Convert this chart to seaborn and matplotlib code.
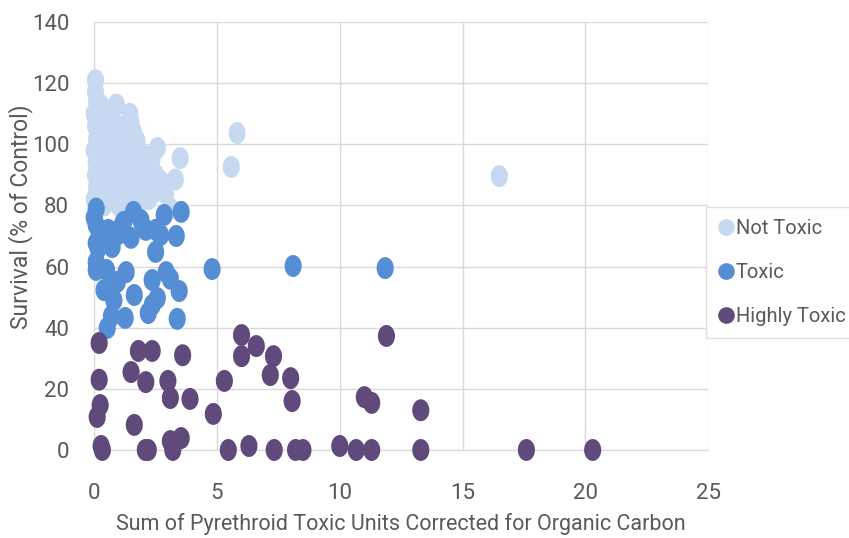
import numpy as np
import pandas as pd
import matplotlib
matplotlib.use("Agg")
import matplotlib.pyplot as plt
from matplotlib.path import Path
from matplotlib.lines import Line2D
import seaborn as sns

# values
not_toxic_x = [0.05, 0.05, 0.1, 0.0, 0.05, 0.1, 0.0, 0.08, 0.05, 0.1, 0.0,
               0.3, 0.3, 0.35, 0.3, 0.4, 0.25, 0.6, 0.55, 0.6, 0.65, 0.5,
               0.9, 0.95, 0.85, 0.9, 0.95, 1.0, 0.75, 1.2, 1.25, 1.2, 1.3, 1.15,
               1.45, 1.5, 1.5, 1.45, 1.55, 1.5, 1.75, 1.85, 1.8, 1.9, 1.75,
               2.1, 2.2, 2.1, 2.2, 2.35, 2.5, 2.4, 2.57, 2.7, 2.75, 3.1,
               3.3, 3.5, 5.58, 5.82, 16.5, 0.45, 0.7, 1.05, 1.35, 1.65, 2.0,
               0.2, 0.7, 1.1, 1.6, 2.3, 2.9]
not_toxic_y = [121, 117, 114, 110, 106, 102, 98, 94, 90, 86, 82,
               108, 100, 92, 85, 80, 113, 105, 97, 89, 83, 110,
               113, 106, 99, 92, 85, 80, 108, 104, 97, 90, 84, 78,
               110, 107, 100, 93, 87, 81, 101, 95, 89, 84, 80,
               96, 91, 86, 82, 95, 90, 84, 98.8, 88, 86, 79,
               88.5, 95.5, 92.6, 103.7, 89.6, 95, 102, 94, 96, 92, 88,
               96, 86, 88, 104, 87, 84]

toxic_x = [4.8, 8.1, 11.85, 3.54, 3.34, 2.93, 3.46, 3.38, 2.57, 2.36, 2.2,
           2.36, 2.5, 2.85, 1.6, 1.5, 1.3, 1.63, 1.26, 0.7, 0.53, 0.8, 0.4,
           0.94, 0.5, 0.08, 0.08, 0.08, 0.08, 0.0, 0.16, 0.08, 1.0, 0.73,
           0.57, 1.2, 1.9, 2.1, 2.5, 2.7, 3.1, 0.3, 1.1]
toxic_y = [59.2, 60.2, 59.5, 77.9, 70.0, 58.2, 52.0, 42.9, 49.7, 47.4, 44.8,
           55.6, 64.8, 76.9, 77.9, 69.4, 58.2, 50.7, 43.2, 43.8, 39.9, 49.0, 52.3,
           55.0, 58.9, 58.9, 67.7, 73.6, 79.0, 76.0, 66.0, 61.5, 70.7, 66.4,
           72.0, 74.6, 75.2, 72.0, 72.0, 70.3, 56.0, 71.0, 73.0]

highly_x = [0.2, 0.2, 0.24, 0.12, 0.28, 0.33, 1.8, 2.36, 1.5, 2.1, 3.0, 3.1,
            3.6, 3.9, 1.63, 2.08, 2.2, 3.1, 3.2, 3.54, 4.85, 5.3, 5.46, 6.0,
            6.0, 6.6, 6.3, 7.17, 7.3, 7.33, 8.0, 8.06, 8.2, 8.5, 10.0, 10.67,
            11.0, 11.3, 11.3, 11.9, 13.3, 13.3, 17.6, 20.3]
highly_y = [35.0, 23.0, 14.7, 10.8, 1.3, 0.0, 32.4, 32.4, 25.5, 22.2, 22.6, 17.0,
            31.0, 16.7, 8.2, 0.0, 0.0, 2.9, 0.0, 3.9, 11.8, 22.6, 0.0, 37.6,
            30.7, 34.0, 1.3, 24.5, 30.7, 0.0, 23.5, 16.0, 0.0, 0.0, 1.3, 0.0,
            17.3, 15.4, 0.0, 37.3, 13.0, 0.0, 0.0, 0.0]

categories = ["Not Toxic", "Toxic", "Highly Toxic"]
colors = ["#c6d9f1", "#558ed5", "#604a7b"]

df = pd.concat([
    pd.DataFrame({"x": not_toxic_x, "y": not_toxic_y, "cls": categories[0]}),
    pd.DataFrame({"x": toxic_x, "y": toxic_y, "cls": categories[1]}),
    pd.DataFrame({"x": highly_x, "y": highly_y, "cls": categories[2]}),
], ignore_index=True)

sns.set_style("whitegrid")
plt.rcParams["font.family"] = ["Roboto", "DejaVu Sans"]

# slightly tall ellipse, like the stretched excel markers
t = np.linspace(0, 2 * np.pi, 60)
ellipse = Path(np.column_stack([0.39 * np.cos(t), 0.5 * np.sin(t)]), closed=True)

fig = plt.figure(figsize=(8.49, 5.38), dpi=100)
ax = fig.add_axes([0.111, 0.1636, 0.723, 0.7954])
sns.scatterplot(data=df, x="x", y="y", hue="cls", hue_order=categories,
                palette=colors, marker=ellipse, s=250, linewidth=0,
                alpha=1, ax=ax, legend=False, zorder=3, clip_on=False)

ax.set_xlim(0, 25)
ax.set_ylim(0, 140)
ax.set_xticks(range(0, 26, 5))
ax.set_yticks(range(0, 141, 20))
ax.grid(True, color="#d9d9d9", linewidth=1)
for s in ["top", "right"]:
    ax.spines[s].set_visible(False)
for s in ["left", "bottom"]:
    ax.spines[s].set_color("#d9d9d9")
ax.tick_params(colors="#595959", labelsize=16, length=0)
ax.tick_params(axis="y", pad=18)
ax.tick_params(axis="x", pad=24)
ax.set_xlabel("Sum of Pyrethroid Toxic Units Corrected for Organic Carbon",
              fontsize=15.5, color="#595959", labelpad=6)
ax.set_ylabel("Survival (% of Control)", fontsize=16.5, color="#595959")
ax.yaxis.set_label_coords(-0.1, 0.545)

handles = [Line2D([], [], marker="o", linestyle="", markersize=12,
                  markerfacecolor=c, markeredgewidth=0) for c in colors]
leg = ax.legend(handles, categories, loc="center left", bbox_to_anchor=(0.996, 0.415),
                frameon=True, fontsize=14.5, handletextpad=0.1, labelspacing=1.25,
                borderpad=0.6, borderaxespad=0, handlelength=0.8, fancybox=False)
leg.get_frame().set_edgecolor("#d9d9d9")
leg.get_frame().set_linewidth(1)
for txt in leg.get_texts():
    txt.set_color("#595959")

fig.savefig("out.png", dpi=100)
